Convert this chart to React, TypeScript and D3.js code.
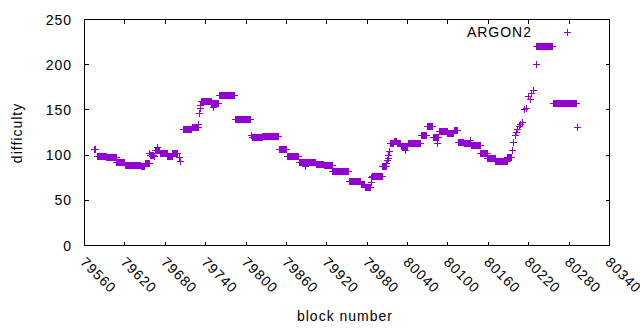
import React, { useEffect, useRef } from 'react';
import * as d3 from 'd3';

// runs of consecutive blocks that share one difficulty
const runStart = [
  79575, 79579, 79593, 79608, 79621, 79633, 79644, 79650, 79658, 79665,
  79673, 79684, 79691, 79707, 79720, 79734, 79749, 79760, 79784, 79810,
  79825, 79849, 79861, 79879, 79904, 79916, 79929, 79953, 79971, 79977,
  79988, 80003, 80014, 80020, 80025, 80031, 80041, 80060, 80069, 80078,
  80087, 80100, 80109, 80115, 80124, 80135, 80149, 80159, 80171, 80189,
  80232, 80257,
];
const runEnd = [
  79576, 79592, 79607, 79620, 79632, 79643, 79649, 79656, 79663, 79672,
  79683, 79690, 79698, 79719, 79729, 79748, 79759, 79783, 79806, 79824,
  79848, 79860, 79878, 79903, 79915, 79928, 79952, 79970, 79976, 79985,
  80002, 80008, 80019, 80024, 80030, 80040, 80059, 80068, 80077, 80086,
  80099, 80108, 80114, 80123, 80133, 80148, 80158, 80170, 80188, 80195,
  80256, 80291,
];
const runDifficulty = [
  106, 98, 97, 92, 89, 88, 87, 91, 100, 105,
  102, 99, 102, 128, 131, 159, 157, 166, 139, 120,
  121, 106, 99, 92, 90, 89, 82, 71, 68, 64,
  76, 87, 113, 115, 113, 109, 113, 122, 132, 119,
  126, 124, 127, 114, 113, 111, 102, 96, 93, 97,
  220, 157,
];

// lone blocks: spikes, dips and the steep climbs
const singleBlock = [
  79657, 79664, 79668, 79701, 79703, 79730, 79731, 79732, 79733, 79752,
  79808, 79888, 79986, 79987, 80009, 80010, 80011, 80012, 80013, 80037,
  80084, 80134, 80196, 80198, 80200, 80202, 80204, 80206, 80208, 80210,
  80213, 80216, 80219, 80222, 80224, 80227, 80231, 80293,
];
const singleDifficulty = [
  102, 98, 108, 97, 93, 134, 146, 151, 155, 153,
  122, 87, 70, 75, 91, 94, 96, 100, 104, 105,
  113, 116, 105, 114, 122, 125, 128, 132, 134, 136,
  150, 152, 165, 162, 168, 172, 200, 131,
];

const xTicks = d3.range(79560, 80341, 60);
const yTicks = [0, 50, 100, 150, 200, 250];
const seriesName = 'ARGON2';

const W = 640;
const H = 330;
const FONT = '"Liberation Sans", Arial, sans-serif';
const COLOR = '#9400d3';

export default function App() {
  const svgRef = useRef<SVGSVGElement>(null);

  useEffect(() => {
    const svg = d3.select(svgRef.current);
    svg.selectAll('*').remove();

    const x = d3.scaleLinear().domain([79560, 80340]).range([84.5, 609.5]);
    const y = d3.scaleLinear().domain([0, 250]).range([245.5, 19.5]);

    const points: [number, number][] = [];
    runStart.forEach((s, i) => {
      for (let b = s; b <= runEnd[i]; b++) points.push([b, runDifficulty[i]]);
    });
    singleBlock.forEach((b, i) => points.push([b, singleDifficulty[i]]));

    const snap = (v: number) => Math.floor(v) + 0.5;
    const plus = (cx: number, cy: number) =>
      `M${cx - 3.5},${cy}H${cx + 3.5}M${cx},${cy - 3.5}V${cy + 3.5}`;

    // data points
    svg.append('path')
      .attr('d', points.map(p => plus(snap(x(p[0])), snap(y(p[1])))).join(''))
      .attr('stroke', COLOR)
      .attr('stroke-width', 1)
      .attr('fill', 'none')
      .attr('shape-rendering', 'crispEdges');

    const g = svg.append('g')
      .attr('stroke', '#000')
      .attr('shape-rendering', 'crispEdges');

    // ticks, mirrored on all four sides like gnuplot does
    xTicks.forEach(t => {
      const tx = snap(x(t));
      g.append('line').attr('x1', tx).attr('x2', tx).attr('y1', 245.5).attr('y2', 241.5);
      g.append('line').attr('x1', tx).attr('x2', tx).attr('y1', 19.5).attr('y2', 23.5);
    });
    yTicks.forEach(t => {
      const ty = snap(y(t));
      g.append('line').attr('x1', 84.5).attr('x2', 88.5).attr('y1', ty).attr('y2', ty);
      g.append('line').attr('x1', 609.5).attr('x2', 605.5).attr('y1', ty).attr('y2', ty);
    });

    g.append('rect')
      .attr('x', 84.5).attr('y', 19.5)
      .attr('width', 525).attr('height', 226)
      .attr('fill', 'none');

    const txt = svg.append('g')
      .attr('font-family', FONT)
      .attr('font-size', 14)
      .attr('letter-spacing', 1)
      .attr('fill', '#000');

    txt.selectAll('.ylab')
      .data(yTicks)
      .enter().append('text')
      .attr('x', 72)
      .attr('y', d => y(d) + 5)
      .attr('text-anchor', 'end')
      .text(d => d);

    txt.selectAll('.xlab')
      .data(xTicks)
      .enter().append('text')
      .attr('transform', d => `translate(${x(d) - 5},${263}) rotate(45)`)
      .text(d => d);

    txt.append('text')
      .attr('x', 345)
      .attr('y', 321)
      .attr('text-anchor', 'middle')
      .text('block number');

    txt.append('text')
      .attr('transform', 'translate(22,133) rotate(-90)')
      .attr('text-anchor', 'middle')
      .text('difficulty');

    // key
    txt.append('text')
      .attr('x', 532)
      .attr('y', 37)
      .attr('text-anchor', 'end')
      .text(seriesName);
    svg.append('path')
      .attr('d', plus(567.5, 32.5))
      .attr('stroke', COLOR)
      .attr('shape-rendering', 'crispEdges');
  }, []);

  return (
    <svg
      ref={svgRef}
      width={W}
      height={H}
      style={{ position: 'absolute', left: 0, top: 0, background: '#fff' }}
    />
  );
}
